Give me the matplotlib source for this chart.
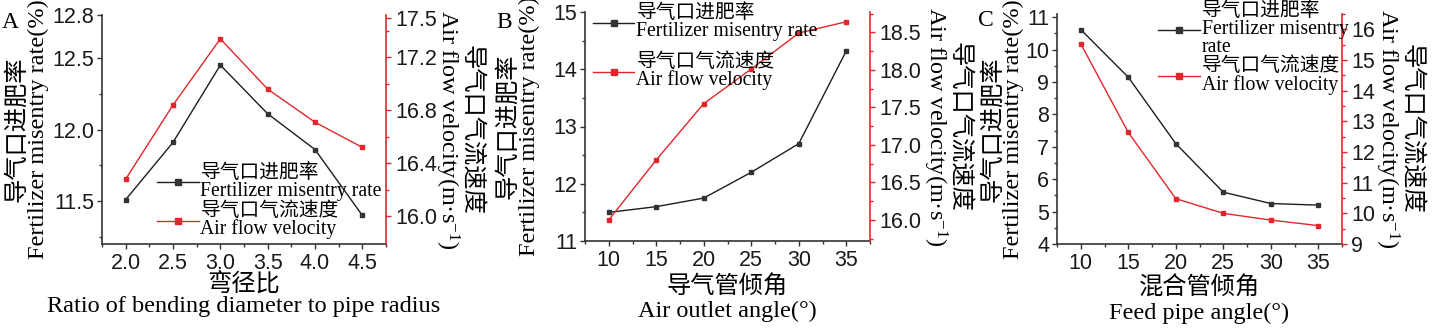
import matplotlib
matplotlib.use('Agg')
import matplotlib.pyplot as plt
from matplotlib.ticker import FixedLocator, MultipleLocator, FormatStrFormatter

# Panel A: bend ratio
ratio = [2.0, 2.5, 3.0, 3.5, 4.0, 4.5]
misentry_a = [11.51, 11.91, 12.45, 12.11, 11.86, 11.40]
velocity_a = [16.28, 16.84, 17.34, 16.96, 16.71, 16.52]

# Panel B: air outlet angle
outlet_angle = [10, 15, 20, 25, 30, 35]
misentry_b = [11.50, 11.60, 11.75, 12.20, 12.70, 14.32]
velocity_b = [16.00, 16.80, 17.55, 18.01, 18.49, 18.64]

# Panel C: feed pipe angle
feed_angle = [10, 15, 20, 25, 30, 35]
misentry_c = [10.62, 9.15, 7.10, 5.60, 5.25, 5.20]
velocity_c = [15.53, 12.64, 10.48, 10.00, 9.78, 9.60]

lab_rate = '导气口进肥率\nFertilizer misentry rate'
lab_rate_c = '导气口进肥率\nFertilizer misentry\nrate'
lab_vel = '导气口气流速度\nAir flow velocity'
ylab_left = '导气口进肥率\nFertilizer misentry rate(%)'
ylab_right = '导气口气流速度\nAir flow velocity(m·s$^{\\mathrm{-1}}$)'

plt.rcParams['font.family'] = ['Liberation Sans']
plt.rcParams['mathtext.fontset'] = 'custom'
plt.rcParams['mathtext.rm'] = 'Liberation Serif'
plt.rcParams['mathtext.it'] = 'Liberation Serif:italic'

SERIF = ['Liberation Serif', 'Noto Sans CJK SC']
BLACK = '#1e1e1e'
RED = '#e3262c'

W, H = 1447, 330
fig = plt.figure(figsize=(W / 100, H / 100), dpi=100)


def make_axes(left, top, right, bottom):
    # pixel box -> figure fraction
    ax = fig.add_axes([left / W, 1 - bottom / H, (right - left) / W, (bottom - top) / H])
    ax2 = ax.twinx()
    for s in ['top', 'right']:
        ax.spines[s].set_visible(False)
    for s in ['top', 'left', 'bottom']:
        ax2.spines[s].set_visible(False)
    ax.spines['left'].set_linewidth(1.2)
    ax.spines['bottom'].set_linewidth(1.2)
    ax.spines['left'].set_color('#333333')
    ax.spines['bottom'].set_color('#333333')
    ax2.spines['right'].set_color(RED)
    ax2.spines['right'].set_linewidth(1.2)
    ax.tick_params(which='major', direction='out', length=3.5, width=1, labelsize=15.5, pad=2, colors='#333333', labelcolor='#1a1a1a')
    ax.tick_params(which='minor', direction='out', length=2, width=1, colors='#333333')
    ax.tick_params(axis='x', which='major', pad=3)
    ax2.tick_params(which='major', direction='out', length=3.5, width=1, labelsize=15.5, pad=3, colors=RED, labelcolor='#1a1a1a')
    ax2.tick_params(which='minor', direction='out', length=2, width=1, colors=RED)
    return ax, ax2


def draw_series(ax, ax2, x, y1, y2):
    l1, = ax.plot(x, y1, color=BLACK, lw=1.0, marker='s', ms=3, mfc='#333333', mec='#333333')
    l2, = ax2.plot(x, y2, color=RED, lw=1.0, marker='s', ms=3, mfc=RED, mec=RED)
    return l1, l2


def add_legend(ax2, handles, labels, anchor, spacing):
    leg = ax2.legend(handles, labels, loc='upper left', bbox_to_anchor=anchor, frameon=False,
                     borderpad=0, borderaxespad=0, handlelength=2.1, handletextpad=0.1,
                     labelspacing=spacing, markerscale=1.5, prop={'family': SERIF, 'size': 14.2})
    for t in leg.get_texts():
        t.set_linespacing(0.92)
    return leg


def add_labels(ax, xl, xpos_l, xpos_r, ypos_x, xspacing):
    ax.text(xpos_l, 0.5, ylab_left, rotation=90, ha='center', va='center', transform=ax.transAxes,
            fontsize=17.5, family=SERIF, linespacing=0.95)
    ax.text(xpos_r, 0.5, ylab_right, rotation=270, ha='center', va='center', transform=ax.transAxes,
            fontsize=17.5, family=SERIF, linespacing=0.95)
    ax.text(0.5, ypos_x, xl, ha='center', va='center', transform=ax.transAxes,
            fontsize=17.5, family=SERIF, linespacing=xspacing)


# ---- A ----
ax, ax2 = make_axes(102, 15, 386, 244)
l1, l2 = draw_series(ax, ax2, ratio, misentry_a, velocity_a)
ax.set_xlim(1.75, 4.75)
ax.xaxis.set_major_locator(FixedLocator(ratio))
ax.xaxis.set_minor_locator(MultipleLocator(0.25))
ax.xaxis.set_major_formatter(FormatStrFormatter('%.1f'))
ax.set_ylim(11.2, 12.8)
ax.yaxis.set_major_locator(FixedLocator([11.5, 12.0, 12.5, 12.8]))
ax.yaxis.set_minor_locator(FixedLocator([11.25, 11.75, 12.25]))
ax.yaxis.set_major_formatter(FormatStrFormatter('%.1f'))
ax2.set_ylim(15.79, 17.52)
ax2.yaxis.set_major_locator(FixedLocator([16.0, 16.4, 16.8, 17.2, 17.5]))
ax2.yaxis.set_minor_locator(FixedLocator([16.2, 16.6, 17.0, 17.4]))
ax2.yaxis.set_major_formatter(FormatStrFormatter('%.1f'))
add_legend(ax2, [l1, l2], [lab_rate, lab_vel], (0.194, 0.35), 0.05)
add_labels(ax, '弯径比\nRatio of bending diameter to pipe radius', -0.264, 1.254, -0.222, 1.0)

# ---- B ----
ax, ax2 = make_axes(585, 12, 870, 241)
l1, l2 = draw_series(ax, ax2, outlet_angle, misentry_b, velocity_b)
ax.set_xlim(7.5, 37.5)
ax.xaxis.set_major_locator(FixedLocator(outlet_angle))
ax.xaxis.set_minor_locator(MultipleLocator(2.5))
ax.set_ylim(11, 15)
ax.yaxis.set_major_locator(MultipleLocator(1))
ax.yaxis.set_minor_locator(MultipleLocator(0.5))
ax2.set_ylim(15.72, 18.77)
ax2.yaxis.set_major_locator(MultipleLocator(0.5))
ax2.yaxis.set_minor_locator(MultipleLocator(0.25))
ax2.yaxis.set_major_formatter(FormatStrFormatter('%.1f'))
add_legend(ax2, [l1, l2], [lab_rate, lab_vel], (0.028, 1.035), 0.6)
add_labels(ax, '导气管倾角\nAir outlet angle(°)', -0.235, 1.267, -0.25, 1.15)

# ---- C ----
ax, ax2 = make_axes(1057, 14, 1342, 244)
l1, l2 = draw_series(ax, ax2, feed_angle, misentry_c, velocity_c)
ax.set_xlim(7.5, 37.5)
ax.xaxis.set_major_locator(FixedLocator(feed_angle))
ax.xaxis.set_minor_locator(MultipleLocator(2.5))
ax.set_ylim(4, 11.1)
ax.yaxis.set_major_locator(MultipleLocator(1))
ax.yaxis.set_minor_locator(MultipleLocator(0.5))
ax2.set_ylim(9, 16.5)
ax2.yaxis.set_major_locator(MultipleLocator(1))
ax2.yaxis.set_minor_locator(MultipleLocator(0.5))
add_legend(ax2, [l1, l2], [lab_rate_c, lab_vel], (0.355, 1.05), 0.0)
add_labels(ax, '混合管倾角\nFeed pipe angle(°)', -0.19, 1.196, -0.245, 1.15)

# panel letters
for letter, px, py in [('A', 10, 22), ('B', 504, 22), ('C', 986, 20)]:
    fig.text(px / W, 1 - py / H, letter, ha='center', va='center', fontsize=17, family=SERIF)

fig.savefig('out.png', dpi=100, facecolor='white')
